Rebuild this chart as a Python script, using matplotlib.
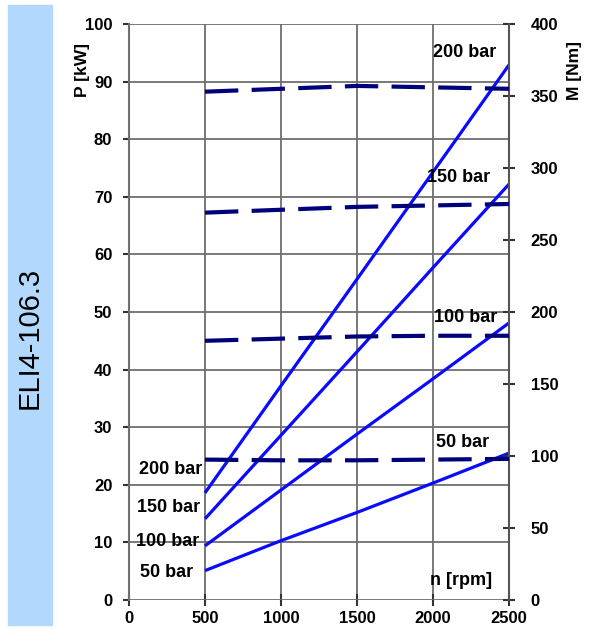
import matplotlib
matplotlib.use("Agg")
import matplotlib.pyplot as plt
import matplotlib.patches as mpatches

plt.rcParams['font.family'] = ['Liberation Sans', 'DejaVu Sans']

rpm = [500, 1000, 1500, 2000, 2500]
pressures = ["50 bar", "100 bar", "150 bar", "200 bar"]
power_kw = {
    "50 bar": [5.1, 10.3, 15.2, 20.3, 25.5],
    "100 bar": [9.4, 19.1, 28.8, 38.4, 48.1],
    "150 bar": [14.1, 28.6, 43.1, 57.7, 72.2],
    "200 bar": [18.6, 37.2, 55.7, 74.3, 92.9],
}
torque_nm = {
    "50 bar": [97.5, 97, 97, 97.5, 98],
    "100 bar": [180, 181.5, 183, 183.5, 183.5],
    "150 bar": [269, 271, 273, 274, 275],
    "200 bar": [353, 355, 357, 356, 355],
}
x_ticks = [0, 500, 1000, 1500, 2000, 2500]
p_ticks = list(range(0, 101, 10))
m_ticks = list(range(0, 401, 50))
title = "ELI4-106.3"

fig = plt.figure(figsize=(5.95, 6.3), dpi=100)
# side band
fig.patches.append(mpatches.Rectangle((8/595, 5/630), 44/595, 620/630,
                                      transform=fig.transFigure, color='#b3d8fd', zorder=0))
fig.text(30/595, 1 - 338/630, title, rotation=90, ha='center', va='center',
         fontsize=21, color='black')

ax = fig.add_axes([129/595, 30/630, 380/595, 576/630])
ax2 = ax.twinx()

grid_c = '#6e6e6e'
ax.set_xlim(0, 2500)
ax.set_ylim(0, 100)
ax2.set_ylim(0, 400)
ax.set_xticks(x_ticks)
ax.set_yticks(p_ticks)
ax2.set_yticks(m_ticks)
ax.grid(True, color=grid_c, lw=1.3)
ax.set_axisbelow(True)

for s in ['top', 'right', 'bottom', 'left']:
    ax.spines[s].set_visible(False)
    ax2.spines[s].set_visible(False)
ax.spines['left'].set_visible(True)
ax.spines['left'].set_color(grid_c)
ax.spines['left'].set_linewidth(1.5)
ax2.spines['right'].set_visible(True)
ax2.spines['right'].set_color('#555555')
ax2.spines['right'].set_linewidth(1.5)

ax.tick_params(axis='y', direction='out', length=4, width=1.5, pad=8, labelsize=12, color='#333333')
ax.tick_params(axis='x', direction='inout', length=8, width=1.5, pad=4, labelsize=12, color='#333333')
ax2.tick_params(axis='y', direction='inout', length=9, width=1.5, pad=11, labelsize=12, color='#333333')
for lab in ax.get_xticklabels() + ax.get_yticklabels() + ax2.get_yticklabels():
    lab.set_fontweight('bold')

for p in pressures:
    ax.plot(rpm, power_kw[p], color='#0a0aff', lw=2.3, solid_capstyle='butt', zorder=3)
    ax2.plot(rpm, torque_nm[p], color='#00007a', lw=3.0, dashes=(8, 3.2), zorder=3)

lab_kw = dict(fontsize=13, fontweight='bold', ha='center', va='center', color='black')
right_pos = {"200 bar": (2210, 95.1), "150 bar": (2165, 73.4),
             "100 bar": (2217, 49.1), "50 bar": (2197, 27.3)}
left_pos = {"200 bar": (276, 22.6), "150 bar": (257, 16.1),
            "100 bar": (257, 10.2), "50 bar": (250, 4.7)}
for p in pressures:
    ax.text(*right_pos[p], p, zorder=5, **lab_kw)
    ax.text(*left_pos[p], p, zorder=5, **lab_kw)
ax.text(2184, 3.3, "n [rpm]", zorder=5, **lab_kw)

fig.text(83/595, 1 - 70/630, "P [kW]", rotation=90, ha='center', va='center',
         fontsize=12.5, fontweight='bold')
fig.text(575/595, 1 - 70/630, "M [Nm]", rotation=90, ha='center', va='center',
         fontsize=12.5, fontweight='bold')

fig.savefig("out.png", dpi=100)
